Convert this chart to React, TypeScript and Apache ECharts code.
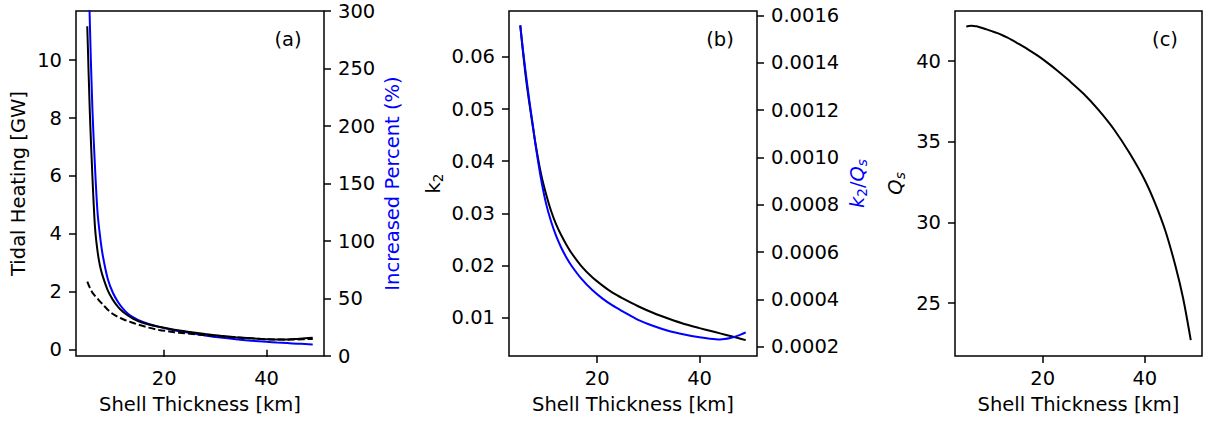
import React, { useEffect, useRef } from "react";
import * as echarts from "echarts";

// Shell thickness [km]
const thickness = [5, 5.5, 6, 6.5, 7, 7.5, 8, 9, 10, 11, 12, 13, 14, 15, 17, 19, 21, 23, 25, 28, 31, 34, 37, 40, 42, 44, 46, 47.5, 49];
// (a) tidal heating [GW], solid black
const tidalHeating = [11.17, 8.2, 6.0, 4.25, 3.4, 2.88, 2.55, 2.05, 1.72, 1.48, 1.3, 1.17, 1.06, 0.98, 0.87, 0.79, 0.72, 0.66, 0.61, 0.54, 0.48, 0.43, 0.39, 0.36, 0.35, 0.35, 0.37, 0.39, 0.41];
// (a) tidal heating [GW], dashed black
const tidalHeatingDashed = [2.35, 2.14, 1.97, 1.86, 1.76, 1.66, 1.57, 1.38, 1.23, 1.13, 1.05, 0.98, 0.92, 0.86, 0.76, 0.68, 0.63, 0.58, 0.55, 0.5, 0.46, 0.42, 0.39, 0.36, 0.35, 0.345, 0.35, 0.36, 0.37];
// (a) increased percent (%), blue
const increasedPercent = [390, 290, 215, 165, 125, 104, 88, 67, 55, 47, 41, 36.5, 33.5, 31.2, 27.8, 25.3, 23.3, 21.6, 20.1, 17.9, 16.0, 14.5, 13.3, 12.3, 11.7, 11.2, 10.7, 10.4, 10.1];
// (b) k2, black
const k2 = [0.066, 0.0612, 0.0568, 0.053, 0.0496, 0.0463, 0.0432, 0.0378, 0.0338, 0.0305, 0.0279, 0.0258, 0.024, 0.0224, 0.0198, 0.0178, 0.0162, 0.0148, 0.0137, 0.0122, 0.0109, 0.0098, 0.0088, 0.008, 0.0075, 0.007, 0.0065, 0.0061, 0.0057];
// (b) k2/Qs, blue
const k2OverQs = [0.00156, 0.00146, 0.00137, 0.001285, 0.001205, 0.00113, 0.00105, 0.000915, 0.000808, 0.00073, 0.000668, 0.000618, 0.000577, 0.000542, 0.000485, 0.00044, 0.000404, 0.000374, 0.000349, 0.000313, 0.000287, 0.000266, 0.000251, 0.000239, 0.000233, 0.00023, 0.000236, 0.000246, 0.00026];
// (c) Qs, black
const qs = [42.14, 42.18, 42.19, 42.18, 42.16, 42.12, 42.07, 41.97, 41.86, 41.75, 41.62, 41.47, 41.3, 41.12, 40.75, 40.34, 39.88, 39.38, 38.84, 37.98, 36.95, 35.75, 34.3, 32.62, 31.2, 29.5, 27.3, 25.3, 22.7];

// tick values
const xTicks = [20, 40];
const heatingTicks = [0, 2, 4, 6, 8, 10];
const percentTicks = [0, 50, 100, 150, 200, 250, 300];
const k2Ticks = [0.01, 0.02, 0.03, 0.04, 0.05, 0.06];
const k2QsTicks = [0.0002, 0.0004, 0.0006, 0.0008, 0.001, 0.0012, 0.0014, 0.0016];
const qsTicks = [25, 30, 35, 40];
const panelLabels = ["(a)", "(b)", "(c)"];

const FONT = "DejaVu Sans";
const FS = 19.5;
const SUB = 13.5;
const BLUE = "#0000ff";

const pairs = (ys: number[]) => thickness.map((t, i) => [t, ys[i]]);

function xAxisFor(gridIndex: number) {
  return {
    type: "value",
    gridIndex,
    min: 2.8,
    max: 51.2,
    name: "Shell Thickness [km]",
    nameLocation: "middle",
    nameGap: 38,
    nameTextStyle: { fontFamily: FONT, fontSize: FS, color: "#000" },
    axisLine: { show: false },
    axisTick: { show: true, length: 7, lineStyle: { color: "#000", width: 1.5 }, customValues: xTicks },
    axisLabel: { customValues: xTicks, margin: 12, fontFamily: FONT, fontSize: FS, color: "#000" },
    splitLine: { show: false },
  };
}

function yAxisFor(
  gridIndex: number,
  position: string,
  min: number,
  max: number,
  ticks: number[],
  digits: number,
  name: string,
  nameGap: number,
  color: string
) {
  return {
    type: "value",
    gridIndex,
    position,
    min,
    max,
    name,
    nameLocation: "middle",
    nameGap,
    nameTextStyle: {
      fontFamily: FONT,
      fontSize: FS,
      color,
      rich: {
        n: { fontFamily: FONT, fontSize: FS, color, lineHeight: 24 },
        i: { fontFamily: FONT, fontSize: FS, color, fontStyle: "italic", lineHeight: 24 },
        sub: { fontFamily: FONT, fontSize: SUB, color, lineHeight: 10, verticalAlign: "bottom" },
        subi: { fontFamily: FONT, fontSize: SUB, color, fontStyle: "italic", lineHeight: 10, verticalAlign: "bottom" },
      },
    },
    axisLine: { show: false },
    axisTick: { show: true, length: 7, lineStyle: { color: "#000", width: 1.5 }, customValues: ticks },
    axisLabel: {
      customValues: ticks,
      margin: 14,
      fontFamily: FONT,
      fontSize: FS,
      color: "#000",
      formatter: (v: number) => v.toFixed(digits),
    },
    splitLine: { show: false },
  };
}

function lineSeries(xIdx: number, yIdx: number, ys: number[], color: string, dashed = false, z = 2) {
  return {
    type: "line",
    xAxisIndex: xIdx,
    yAxisIndex: yIdx,
    data: pairs(ys),
    showSymbol: false,
    smooth: 0.3,
    z,
    lineStyle: { color, width: 2, type: dashed ? [7, 3] : "solid" },
  };
}

export default function App() {
  const ref = useRef<HTMLDivElement>(null);
  useEffect(() => {
    if (!ref.current) return;
    const chart = echarts.init(ref.current, undefined, { renderer: "svg" });
    const gridBase = { top: 11, height: 345, show: true, borderColor: "#000", borderWidth: 1.5, backgroundColor: "transparent" };
    const labelStyle = { fontFamily: FONT, fontSize: FS, fill: "#000", align: "center", verticalAlign: "middle" };
    chart.setOption({
      animation: false,
      backgroundColor: "#fff",
      grid: [
        { ...gridBase, left: 76, width: 248 },
        { ...gridBase, left: 509, width: 248 },
        { ...gridBase, left: 955, width: 247 },
      ],
      xAxis: [xAxisFor(0), xAxisFor(1), xAxisFor(2)],
      yAxis: [
        yAxisFor(0, "left", -0.22, 11.7, heatingTicks, 0, "{n|Tidal Heating [GW]}", 46, "#000"),
        yAxisFor(0, "right", 0, 300, percentTicks, 0, "{n|Increased Percent (%)}", 56, BLUE),
        yAxisFor(1, "left", 0.00266, 0.0688, k2Ticks, 2, "{n|k}{sub|2}", 64, "#000"),
        yAxisFor(1, "right", 0.00016, 0.00162, k2QsTicks, 4, "{i|k}{sub|2}{n|/}{i|Q}{subi|s}", 88, BLUE),
        yAxisFor(2, "left", 21.72, 43.11, qsTicks, 0, "{i|Q}{subi|s}", 48, "#000"),
      ],
      series: [
        lineSeries(0, 1, increasedPercent, BLUE, false, 2),
        lineSeries(0, 0, tidalHeating, "#000", false, 3),
        lineSeries(0, 0, tidalHeatingDashed, "#000", true, 4),
        lineSeries(1, 2, k2, "#000", false, 2),
        lineSeries(1, 3, k2OverQs, BLUE, false, 3),
        lineSeries(2, 4, qs, "#000", false, 2),
      ],
      graphic: [
        { type: "text", x: 288, y: 39, style: { ...labelStyle, text: panelLabels[0] } },
        { type: "text", x: 720, y: 39, style: { ...labelStyle, text: panelLabels[1] } },
        { type: "text", x: 1165, y: 39, style: { ...labelStyle, text: panelLabels[2] } },
      ],
    });
    return () => chart.dispose();
  }, []);
  return (
    <div
      ref={ref}
      style={{ position: "fixed", left: 0, top: 0, width: 1207, height: 423, background: "#fff" }}
    />
  );
}
